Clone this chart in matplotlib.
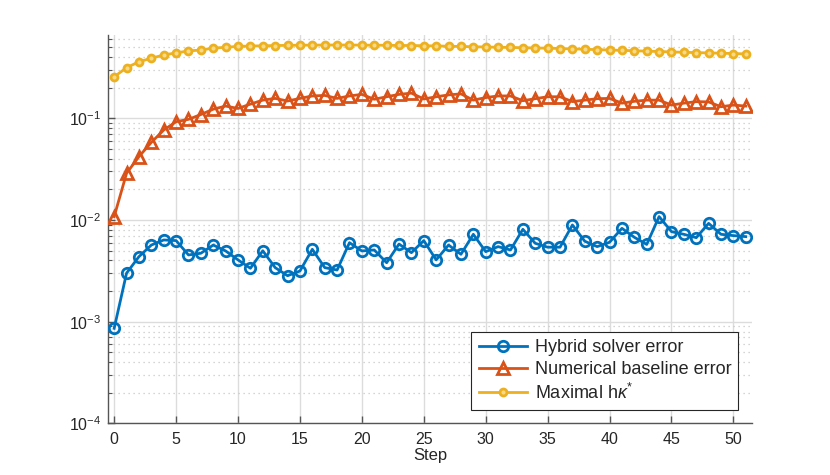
import numpy as np
import matplotlib.pyplot as plt

plt.rcParams['font.family'] = ['Liberation Sans', 'DejaVu Sans']
plt.rcParams['mathtext.fontset'] = 'custom'
plt.rcParams['mathtext.rm'] = 'Liberation Sans'
plt.rcParams['mathtext.it'] = 'Liberation Sans:italic'

steps = np.arange(0, 52)

hybrid_err = [0.00086, 0.0030, 0.00436, 0.00567, 0.00636, 0.00627, 0.00453, 0.00471,
              0.00567, 0.00496, 0.00405, 0.00335, 0.00498, 0.0034, 0.00283, 0.00315,
              0.00515, 0.0034, 0.00322, 0.00598, 0.00496, 0.00507, 0.0038, 0.0058,
              0.00477, 0.00627, 0.00405, 0.00567, 0.0046, 0.00723, 0.00488, 0.00547,
              0.00507, 0.0081, 0.0059, 0.0054, 0.0054, 0.00893, 0.00618, 0.00547,
              0.00604, 0.00828, 0.00676, 0.00575, 0.0108, 0.00768, 0.00723, 0.0067,
              0.00927, 0.00723, 0.00702, 0.00686]

baseline_err = [0.0108, 0.0288, 0.042, 0.058, 0.0767, 0.0926, 0.0977, 0.109,
                0.123, 0.132, 0.125, 0.138, 0.151, 0.157, 0.148, 0.157,
                0.166, 0.168, 0.157, 0.166, 0.172, 0.154, 0.163, 0.172,
                0.177, 0.155, 0.163, 0.170, 0.174, 0.151, 0.160, 0.166,
                0.166, 0.149, 0.156, 0.163, 0.163, 0.146, 0.151, 0.156,
                0.157, 0.141, 0.147, 0.151, 0.151, 0.135, 0.141, 0.146,
                0.145, 0.130, 0.135, 0.132]

max_hk = [0.256, 0.315, 0.36, 0.39, 0.42, 0.44, 0.46, 0.47,
          0.49, 0.50, 0.51, 0.514, 0.517, 0.52, 0.522, 0.524,
          0.525, 0.526, 0.526, 0.526, 0.525, 0.524, 0.523, 0.521,
          0.52, 0.518, 0.515, 0.512, 0.509, 0.506, 0.503, 0.50,
          0.498, 0.495, 0.492, 0.49, 0.486, 0.482, 0.478, 0.474,
          0.47, 0.466, 0.462, 0.458, 0.454, 0.45, 0.446, 0.443,
          0.44, 0.437, 0.434, 0.43]

blue = '#0072BD'
orange = '#D95319'
yellow = '#EDB120'
dark = '#262626'

fig = plt.figure(figsize=(8.3, 4.75), dpi=100)
ax = fig.add_axes([0.1301, 0.1088, 0.7759, 0.8175])

ax.semilogy(steps, hybrid_err, '-o', color=blue, lw=2, ms=7.5, mew=2, mfc='none',
            label='Hybrid solver error', zorder=3)
ax.semilogy(steps, baseline_err, '-^', color=orange, lw=2, ms=9, mew=2, mfc='none',
            label='Numerical baseline error', zorder=3)
ax.semilogy(steps, max_hk, '-o', color=yellow, lw=2, ms=5, mew=2, mfc='#F6D98A',
            label=r'Maximal h$\kappa^{*}$', zorder=3)

ax.set_xlim(-0.5, 51.5)
ax.set_ylim(1e-4, 0.66)
ax.set_xticks(np.arange(0, 51, 5))

ax.grid(True, which='major', color='#DCDCDC', lw=1, ls='-')
ax.grid(True, which='minor', axis='y', color='#C8C8C8', lw=0.9, ls=(0, (1, 3)))
ax.set_axisbelow(True)

for s in ['top', 'right']:
    ax.spines[s].set_visible(False)
for s in ['left', 'bottom']:
    ax.spines[s].set_color('#555555')
    ax.spines[s].set_linewidth(1.0)

ax.tick_params(which='both', direction='in', colors='#555555', labelcolor=dark,
               labelsize=11.5)
ax.tick_params(which='major', length=5, width=1)
ax.tick_params(which='minor', length=3, width=0.8)
ax.tick_params(axis='x', pad=6)
ax.tick_params(axis='y', pad=5)

ax.set_xlabel('Step', fontsize=12, color=dark, labelpad=1)

leg = ax.legend(loc='lower right', fontsize=13, handlelength=2.7, borderaxespad=0.75,
                fancybox=False, framealpha=1, edgecolor=dark, borderpad=0.4,
                labelspacing=0.25, handletextpad=0.4)
leg.get_frame().set_linewidth(0.8)
for t in leg.get_texts():
    t.set_color(dark)

fig.savefig('out.png', dpi=100)
